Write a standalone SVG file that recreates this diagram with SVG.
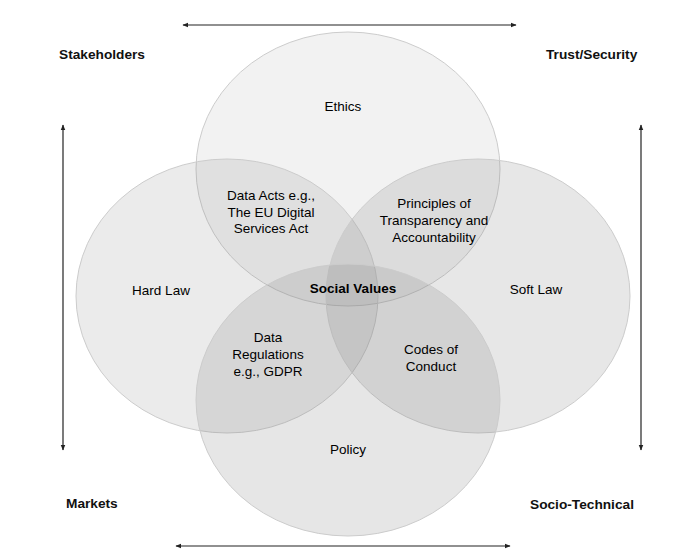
<svg xmlns="http://www.w3.org/2000/svg" width="680" height="556" viewBox="0 0 680 556">
<defs>
<marker id="ah" viewBox="0 0 10 10" refX="9" refY="5" markerWidth="6" markerHeight="6" orient="auto-start-reverse" markerUnits="userSpaceOnUse">
<path d="M0,1 L10,5 L0,9 z" fill="#222"/>
</marker>
</defs>
<style>
.set{fill:#808080;stroke:#cccccc;stroke-width:1}
.lbl{font-family:"Liberation Sans",Arial,sans-serif;font-size:13.5px;fill:#000;text-anchor:middle}
.b{font-weight:bold}
.corner{font-family:"Liberation Sans",Arial,sans-serif;font-size:13.7px;font-weight:bold;fill:#111}
.arr{stroke:#222;stroke-width:1.2;fill:none;marker-start:url(#ah);marker-end:url(#ah)}
</style>
<rect width="680" height="556" fill="#fff"/>
<g id="ethics"><ellipse class="set" cx="348" cy="169" rx="152" ry="137" fill-opacity="0.1"/></g>
<g id="hard-law"><ellipse class="set" cx="227" cy="296" rx="151" ry="137" fill-opacity="0.16"/></g>
<g id="soft-law"><ellipse class="set" cx="478" cy="296" rx="152" ry="137" fill-opacity="0.19"/></g>
<g id="policy"><ellipse class="set" cx="348" cy="400" rx="152" ry="136" fill-opacity="0.2"/></g>
<g id="labels">
<text class="lbl" x="343" y="111">Ethics</text>
<text class="lbl" x="161" y="295">Hard Law</text>
<text class="lbl" x="536" y="294">Soft Law</text>
<text class="lbl" x="348" y="454">Policy</text>
<text class="lbl b" x="353" y="293">Social Values</text>
<text class="lbl" x="271" y="200">Data Acts e.g.,</text>
<text class="lbl" x="271" y="217">The EU Digital</text>
<text class="lbl" x="271" y="233">Services Act</text>
<text class="lbl" x="434" y="208">Principles of</text>
<text class="lbl" x="434" y="225">Transparency and</text>
<text class="lbl" x="434" y="242">Accountability</text>
<text class="lbl" x="268" y="342">Data</text>
<text class="lbl" x="268" y="359">Regulations</text>
<text class="lbl" x="268" y="376">e.g., GDPR</text>
<text class="lbl" x="431" y="354">Codes of</text>
<text class="lbl" x="431" y="371">Conduct</text>
</g>
<g id="corners">
<text class="corner" x="59" y="59">Stakeholders</text>
<text class="corner" x="546" y="59">Trust/Security</text>
<text class="corner" x="66" y="508">Markets</text>
<text class="corner" x="530" y="509">Socio-Technical</text>
</g>
<g id="connectors">
<line class="arr" x1="183" y1="25" x2="516" y2="25"/>
<line class="arr" x1="176" y1="546" x2="510" y2="546"/>
<line class="arr" x1="63" y1="125" x2="63" y2="450"/>
<line class="arr" x1="641" y1="125" x2="641" y2="450"/>
</g>
</svg>
